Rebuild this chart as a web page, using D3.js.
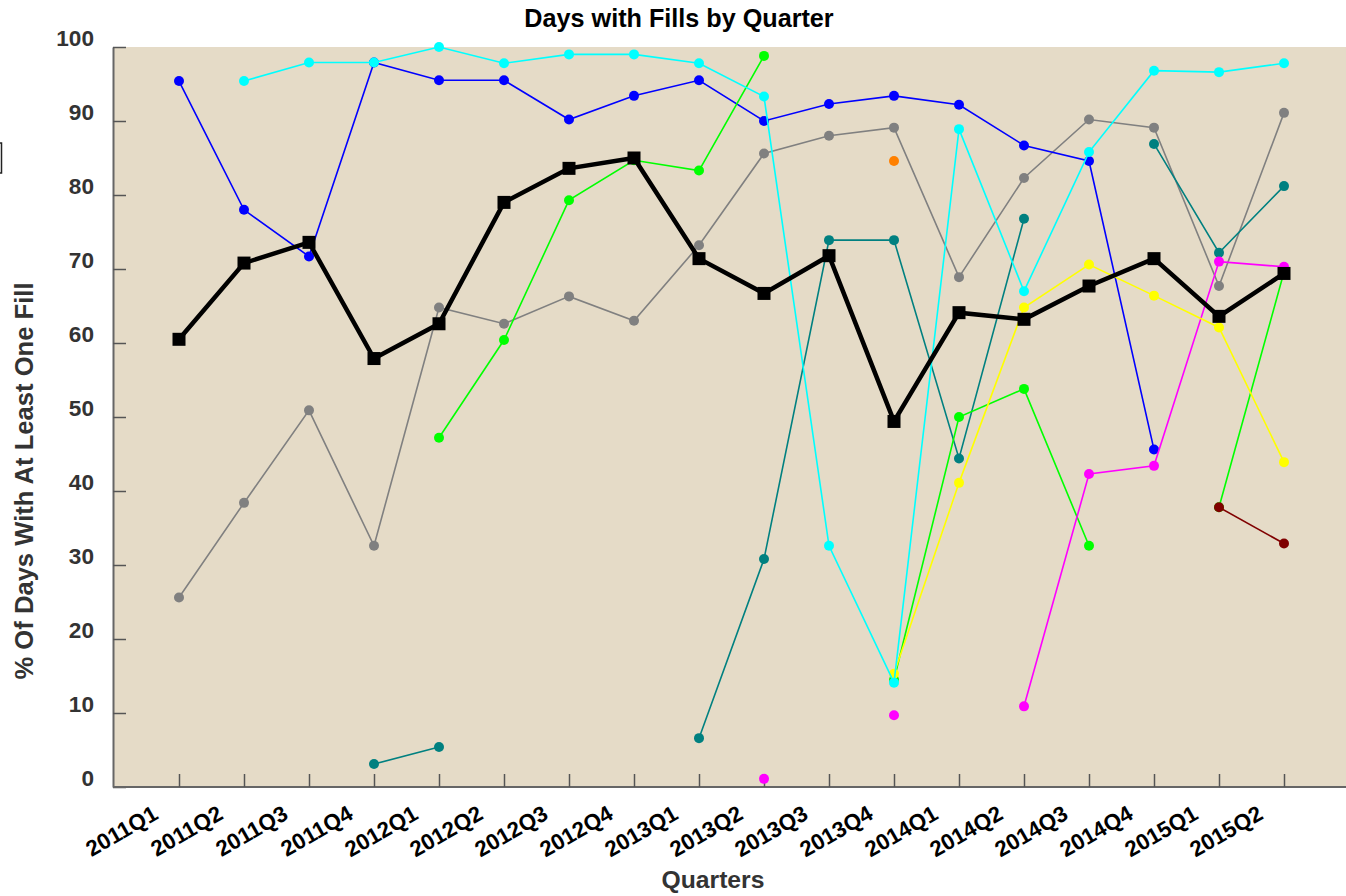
<!DOCTYPE html>
<html>
<head>
<meta charset="utf-8">
<script src="https://cdn.jsdelivr.net/npm/d3@7"></script>
<style>
  body { margin: 0; background: #fff; }
  text { font-family: "Liberation Sans", Arial, sans-serif; font-weight: bold; }
</style>
</head>
<body>
<script>
// quarters on the x axis
let quarters = ["2011Q1","2011Q2","2011Q3","2011Q4","2012Q1","2012Q2","2012Q3","2012Q4",
  "2013Q1","2013Q2","2013Q3","2013Q4","2014Q1","2014Q2","2014Q3","2014Q4","2015Q1","2015Q2"];

let yTicks = [0,10,20,30,40,50,60,70,80,90,100];

// one array per series, null = no data that quarter
let grayVals    = [25.6,38.4,50.9,32.6,64.8,62.6,66.3,63.0,73.2,85.6,88.0,89.1,68.9,82.3,90.2,89.1,67.7,91.1];
let blueVals    = [95.4,78.0,71.7,97.9,95.5,95.5,90.2,93.4,95.5,90.0,92.3,93.4,92.2,86.7,84.6,45.6,null,null];
let tealVals    = [null,null,null,3.1,5.4,null,null,null,6.6,30.8,73.9,73.9,44.4,76.8,null,86.9,72.2,81.2];
let greenVals   = [null,null,null,null,47.2,60.4,79.3,84.7,83.3,98.8,null,14.5,50.0,53.8,32.6,null,37.8,69.6];
let magentaVals = [null,null,null,null,null,null,null,null,null,1.1,null,9.7,null,10.9,42.3,43.4,71.0,70.3];
let yellowVals  = [null,null,null,null,null,null,null,null,null,null,null,15.3,41.1,64.8,70.6,66.4,62.1,43.9];
let cyanVals    = [null,95.4,97.9,97.9,100.0,97.8,99.0,99.0,97.8,93.3,32.6,14.1,88.9,67.0,85.8,96.8,96.6,97.8];
let orangeVals  = [null,null,null,null,null,null,null,null,null,null,null,84.6,null,null,null,null,null,null];
let maroonVals  = [null,null,null,null,null,null,null,null,null,null,null,null,null,null,null,null,37.8,32.9];
let avgVals     = [60.5,70.8,73.6,57.9,62.6,79.0,83.6,85.0,71.4,66.7,71.8,49.4,64.1,63.2,67.7,71.4,63.6,69.4];

let series = [
  {vals: grayVals, color: "#808080"},
  {vals: blueVals, color: "#0000ff"},
  {vals: tealVals, color: "#008080"},
  {vals: greenVals, color: "#00ff00"},
  {vals: magentaVals, color: "#ff00ff"},
  {vals: yellowVals, color: "#ffff00"},
  {vals: cyanVals, color: "#00ffff"},
  {vals: orangeVals, color: "#ff8000"},
  {vals: maroonVals, color: "#800000"}
];

var width = 1346, height = 896;
var plotL = 113, plotT = 47, plotB = 787, plotR = 1349;

var svg = d3.select("body")
  .append("svg")
  .attr("width", width)
  .attr("height", height);

var x = d3.scalePoint()
  .domain(quarters)
  .range([plotL + 1, plotR])
  .padding(1);

var y = d3.scaleLinear()
  .domain([0, 100])
  .range([plotB, plotT]);

// plot background
svg.append("rect")
  .attr("x", plotL)
  .attr("y", plotT)
  .attr("width", plotR - plotL)
  .attr("height", plotB - plotT)
  .attr("fill", "#e5dbc7");

// little clipped box on the far left
svg.append("rect")
  .attr("x", -10)
  .attr("y", 143)
  .attr("width", 11.5)
  .attr("height", 30)
  .attr("fill", "none")
  .attr("stroke", "#222")
  .attr("stroke-width", 1.5);

// y axis, ticks pointing inwards
var yAxis = svg.append("g")
  .attr("transform", "translate(" + plotL + ",0)")
  .call(d3.axisLeft(y).tickValues(yTicks).tickSizeInner(-13).tickSizeOuter(0).tickPadding(19));
yAxis.select(".domain").attr("stroke", "#666").attr("stroke-width", 2);
yAxis.selectAll("line").attr("stroke", "#555").attr("stroke-width", 1.5);
yAxis.selectAll("text")
  .attr("font-size", 22.6)
  .attr("fill", "#333")
  .attr("dy", "-0.08em");

// x axis
var xAxis = svg.append("g")
  .attr("transform", "translate(0," + plotB + ")")
  .call(d3.axisBottom(x).tickSizeInner(-13).tickSizeOuter(0));
xAxis.select(".domain").attr("stroke", "#666").attr("stroke-width", 2)
  .attr("d", "M" + plotL + ",0H" + width);
xAxis.selectAll("line").attr("stroke", "#555").attr("stroke-width", 1.5);
xAxis.selectAll("text")
  .attr("font-size", 22.4)
  .attr("fill", "#000")
  .attr("text-anchor", "end")
  .attr("y", 0)
  .attr("dy", 0)
  .attr("transform", "translate(-20,31) rotate(-30)");

var line = d3.line()
  .defined(d => d != null)
  .x((d, i) => x(quarters[i]))
  .y(d => y(d));

// colored series
series.forEach(function(s) {
  svg.append("path")
    .attr("d", line(s.vals))
    .attr("fill", "none")
    .attr("stroke", s.color)
    .attr("stroke-width", 1.6);

  svg.selectAll(null)
    .data(s.vals.map((v, i) => ({v: v, q: quarters[i]})).filter(d => d.v != null))
    .enter()
    .append("circle")
    .attr("cx", d => x(d.q))
    .attr("cy", d => y(d.v))
    .attr("r", 5)
    .attr("fill", s.color);
});

// average line on top
svg.append("path")
  .attr("d", line(avgVals))
  .attr("fill", "none")
  .attr("stroke", "#000")
  .attr("stroke-width", 4.5)
  .attr("stroke-linejoin", "miter");

svg.selectAll(null)
  .data(avgVals.map((v, i) => ({v: v, q: quarters[i]})))
  .enter()
  .append("rect")
  .attr("x", d => x(d.q) - 6.5)
  .attr("y", d => y(d.v) - 6.5)
  .attr("width", 13)
  .attr("height", 13)
  .attr("fill", "#000");

// titles
svg.append("text")
  .attr("x", 679)
  .attr("y", 27)
  .attr("text-anchor", "middle")
  .attr("font-size", 25.2)
  .attr("fill", "#000")
  .text("Days with Fills by Quarter");

svg.append("text")
  .attr("x", 713)
  .attr("y", 888)
  .attr("text-anchor", "middle")
  .attr("font-size", 24.7)
  .attr("fill", "#333")
  .text("Quarters");

svg.append("text")
  .attr("transform", "translate(33,481) rotate(-90)")
  .attr("text-anchor", "middle")
  .attr("font-size", 25.6)
  .attr("fill", "#333")
  .text("% Of Days With At Least One Fill");
</script>
</body>
</html>
